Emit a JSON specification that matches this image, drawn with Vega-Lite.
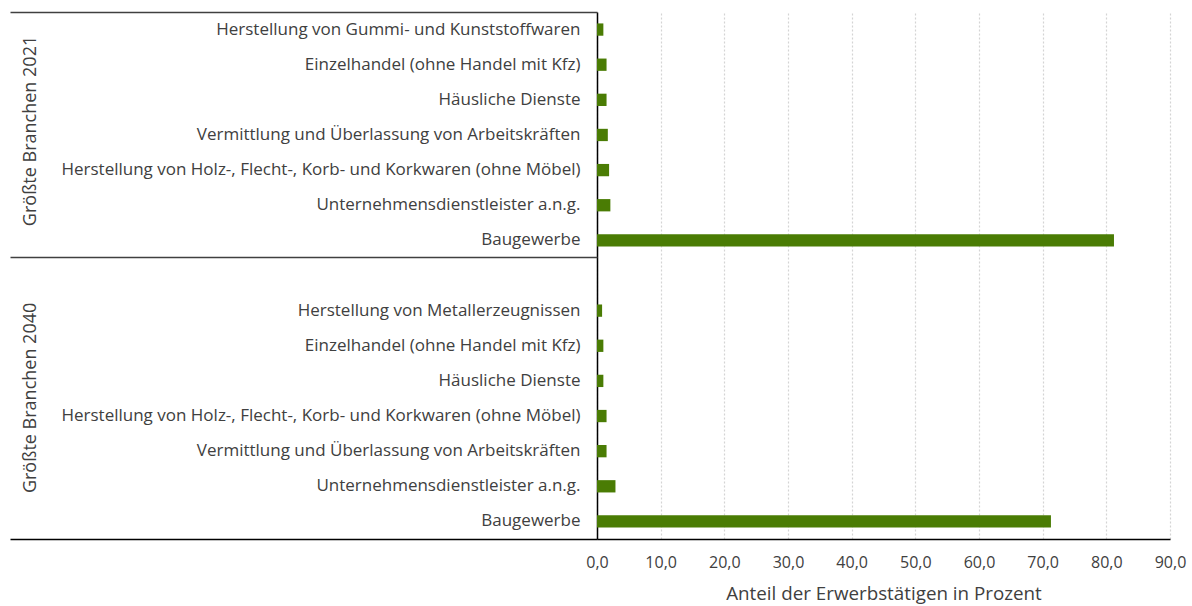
{
  "$schema": "https://vega.github.io/schema/vega-lite/v6.json",
  "width": 573,
  "height": 527,
  "autosize": "none",
  "padding": {"left": 597, "top": 12, "right": 22, "bottom": 67},
  "background": "white",
  "config": {
    "view": {"stroke": null},
    "font": "Open Sans",
    "axis": {"labelColor": "#404040", "titleColor": "#404040", "labelFontSize": 17, "titleFontSize": 18.8, "titleFontWeight": "normal", "grid": false}
  },
  "data": {
    "values": [
      {"gruppe": "Größte Branchen 2021", "zeile": "2021|Herstellung von Gummi- und Kunststoffwaren", "anteil": 1.0},
      {"gruppe": "Größte Branchen 2021", "zeile": "2021|Einzelhandel (ohne Handel mit Kfz)", "anteil": 1.5},
      {"gruppe": "Größte Branchen 2021", "zeile": "2021|Häusliche Dienste", "anteil": 1.5},
      {"gruppe": "Größte Branchen 2021", "zeile": "2021|Vermittlung und Überlassung von Arbeitskräften", "anteil": 1.7},
      {"gruppe": "Größte Branchen 2021", "zeile": "2021|Herstellung von Holz-, Flecht-, Korb- und Korkwaren (ohne Möbel)", "anteil": 1.9},
      {"gruppe": "Größte Branchen 2021", "zeile": "2021|Unternehmensdienstleister a.n.g.", "anteil": 2.1},
      {"gruppe": "Größte Branchen 2021", "zeile": "2021|Baugewerbe", "anteil": 81.2},
      {"gruppe": "Größte Branchen 2040", "zeile": "2040|Herstellung von Metallerzeugnissen", "anteil": 0.8},
      {"gruppe": "Größte Branchen 2040", "zeile": "2040|Einzelhandel (ohne Handel mit Kfz)", "anteil": 1.0},
      {"gruppe": "Größte Branchen 2040", "zeile": "2040|Häusliche Dienste", "anteil": 1.0},
      {"gruppe": "Größte Branchen 2040", "zeile": "2040|Herstellung von Holz-, Flecht-, Korb- und Korkwaren (ohne Möbel)", "anteil": 1.5},
      {"gruppe": "Größte Branchen 2040", "zeile": "2040|Vermittlung und Überlassung von Arbeitskräften", "anteil": 1.5},
      {"gruppe": "Größte Branchen 2040", "zeile": "2040|Unternehmensdienstleister a.n.g.", "anteil": 2.9},
      {"gruppe": "Größte Branchen 2040", "zeile": "2040|Baugewerbe", "anteil": 71.3}
    ]
  },
  "encoding": {
    "x": {
      "field": "anteil",
      "type": "quantitative",
      "scale": {"domain": [0, 90], "nice": false},
      "axis": {
        "values": [0, 10, 20, 30, 40, 50, 60, 70, 80, 90],
        "labelExpr": "replace(format(datum.value, '.1f'), '.', ',')",
        "labelFlush": false,
        "labelFontSize": 16,
        "grid": true,
        "gridColor": "#d4d4d4",
        "gridDash": [2, 2],
        "gridWidth": 1.2,
        "domain": true,
        "domainColor": "#000000",
        "domainWidth": 1.5,
        "ticks": false,
        "labelPadding": 15,
        "title": "Anteil der Erwerbstätigen in Prozent",
        "titlePadding": 14
      }
    }
  },
  "layer": [
    {
      "mark": {"type": "bar", "color": "#4a7c04", "height": {"band": 0.35}},
      "encoding": {
        "y": {
          "field": "zeile",
          "type": "nominal",
          "sort": null,
          "scale": {"domain": [
            "2021|Herstellung von Gummi- und Kunststoffwaren",
            "2021|Einzelhandel (ohne Handel mit Kfz)",
            "2021|Häusliche Dienste",
            "2021|Vermittlung und Überlassung von Arbeitskräften",
            "2021|Herstellung von Holz-, Flecht-, Korb- und Korkwaren (ohne Möbel)",
            "2021|Unternehmensdienstleister a.n.g.",
            "2021|Baugewerbe",
            "2040|",
            "2040|Herstellung von Metallerzeugnissen",
            "2040|Einzelhandel (ohne Handel mit Kfz)",
            "2040|Häusliche Dienste",
            "2040|Herstellung von Holz-, Flecht-, Korb- und Korkwaren (ohne Möbel)",
            "2040|Vermittlung und Überlassung von Arbeitskräften",
            "2040|Unternehmensdienstleister a.n.g.",
            "2040|Baugewerbe"
          ], "paddingInner": 0, "paddingOuter": 0},
          "axis": {
            "orient": "left",
            "title": null,
            "labelExpr": "split(datum.value, '|')[1]",
            "ticks": false,
            "domain": true,
            "domainColor": "#000000",
            "domainWidth": 1.5,
            "labelPadding": 17,
            "labelLimit": 0
          }
        }
      }
    },
    {
      "mark": {"type": "bar", "opacity": 0},
      "encoding": {
        "y": {
          "field": "zeile",
          "type": "nominal",
          "sort": null,
          "scale": {"domain": [
            "2021|Herstellung von Gummi- und Kunststoffwaren",
            "2021|Einzelhandel (ohne Handel mit Kfz)",
            "2021|Häusliche Dienste",
            "2021|Vermittlung und Überlassung von Arbeitskräften",
            "2021|Herstellung von Holz-, Flecht-, Korb- und Korkwaren (ohne Möbel)",
            "2021|Unternehmensdienstleister a.n.g.",
            "2021|Baugewerbe",
            "2040|",
            "2040|Herstellung von Metallerzeugnissen",
            "2040|Einzelhandel (ohne Handel mit Kfz)",
            "2040|Häusliche Dienste",
            "2040|Herstellung von Holz-, Flecht-, Korb- und Korkwaren (ohne Möbel)",
            "2040|Vermittlung und Überlassung von Arbeitskräften",
            "2040|Unternehmensdienstleister a.n.g.",
            "2040|Baugewerbe"
          ], "paddingInner": 0, "paddingOuter": 0},
          "axis": {
            "orient": "left",
            "title": null,
            "values": ["2021|Herstellung von Gummi- und Kunststoffwaren", "2040|"],
            "bandPosition": 0,
            "labels": false,
            "domain": false,
            "ticks": true,
            "tickSize": 587,
            "tickColor": "#404040",
            "tickWidth": 1.5
          }
        }
      }
    },
    {
      "mark": {"type": "bar", "opacity": 0},
      "encoding": {
        "y": {
          "field": "zeile",
          "type": "nominal",
          "sort": null,
          "scale": {"domain": [
            "2021|Herstellung von Gummi- und Kunststoffwaren",
            "2021|Einzelhandel (ohne Handel mit Kfz)",
            "2021|Häusliche Dienste",
            "2021|Vermittlung und Überlassung von Arbeitskräften",
            "2021|Herstellung von Holz-, Flecht-, Korb- und Korkwaren (ohne Möbel)",
            "2021|Unternehmensdienstleister a.n.g.",
            "2021|Baugewerbe",
            "2040|",
            "2040|Herstellung von Metallerzeugnissen",
            "2040|Einzelhandel (ohne Handel mit Kfz)",
            "2040|Häusliche Dienste",
            "2040|Herstellung von Holz-, Flecht-, Korb- und Korkwaren (ohne Möbel)",
            "2040|Vermittlung und Überlassung von Arbeitskräften",
            "2040|Unternehmensdienstleister a.n.g.",
            "2040|Baugewerbe"
          ], "paddingInner": 0, "paddingOuter": 0},
          "axis": {
            "orient": "left",
            "title": null,
            "values": ["2040|Baugewerbe"],
            "bandPosition": 1,
            "labels": false,
            "domain": false,
            "ticks": true,
            "tickSize": 587,
            "tickColor": "#000000",
            "tickWidth": 1.5
          }
        }
      }
    },
    {
      "mark": {"type": "bar", "opacity": 0},
      "encoding": {
        "y": {
          "field": "zeile",
          "type": "nominal",
          "sort": null,
          "scale": {"domain": [
            "2021|Herstellung von Gummi- und Kunststoffwaren",
            "2021|Einzelhandel (ohne Handel mit Kfz)",
            "2021|Häusliche Dienste",
            "2021|Vermittlung und Überlassung von Arbeitskräften",
            "2021|Herstellung von Holz-, Flecht-, Korb- und Korkwaren (ohne Möbel)",
            "2021|Unternehmensdienstleister a.n.g.",
            "2021|Baugewerbe",
            "2040|",
            "2040|Herstellung von Metallerzeugnissen",
            "2040|Einzelhandel (ohne Handel mit Kfz)",
            "2040|Häusliche Dienste",
            "2040|Herstellung von Holz-, Flecht-, Korb- und Korkwaren (ohne Möbel)",
            "2040|Vermittlung und Überlassung von Arbeitskräften",
            "2040|Unternehmensdienstleister a.n.g.",
            "2040|Baugewerbe"
          ], "paddingInner": 0, "paddingOuter": 0},
          "axis": {
            "orient": "left",
            "title": null,
            "values": ["2021|Vermittlung und Überlassung von Arbeitskräften"],
            "labelExpr": "'Größte Branchen 2021'",
            "labelFontSize": 18,
            "labelAngle": 270,
            "labelAlign": "center",
            "labelBaseline": "middle",
            "labelPadding": 567,
            "labelOffset": -4,
            "labelLimit": 0,
            "domain": false,
            "ticks": false
          }
        }
      }
    },
    {
      "mark": {"type": "bar", "opacity": 0},
      "encoding": {
        "y": {
          "field": "zeile",
          "type": "nominal",
          "sort": null,
          "scale": {"domain": [
            "2021|Herstellung von Gummi- und Kunststoffwaren",
            "2021|Einzelhandel (ohne Handel mit Kfz)",
            "2021|Häusliche Dienste",
            "2021|Vermittlung und Überlassung von Arbeitskräften",
            "2021|Herstellung von Holz-, Flecht-, Korb- und Korkwaren (ohne Möbel)",
            "2021|Unternehmensdienstleister a.n.g.",
            "2021|Baugewerbe",
            "2040|",
            "2040|Herstellung von Metallerzeugnissen",
            "2040|Einzelhandel (ohne Handel mit Kfz)",
            "2040|Häusliche Dienste",
            "2040|Herstellung von Holz-, Flecht-, Korb- und Korkwaren (ohne Möbel)",
            "2040|Vermittlung und Überlassung von Arbeitskräften",
            "2040|Unternehmensdienstleister a.n.g.",
            "2040|Baugewerbe"
          ], "paddingInner": 0, "paddingOuter": 0},
          "axis": {
            "orient": "left",
            "title": null,
            "values": ["2040|Häusliche Dienste"],
            "labelExpr": "'Größte Branchen 2040'",
            "labelFontSize": 18,
            "labelAngle": 270,
            "labelAlign": "center",
            "labelBaseline": "middle",
            "labelPadding": 567,
            "labelOffset": 17,
            "labelLimit": 0,
            "domain": false,
            "ticks": false
          }
        }
      }
    }
  ],
  "resolve": {"axis": {"y": "independent"}}
}
